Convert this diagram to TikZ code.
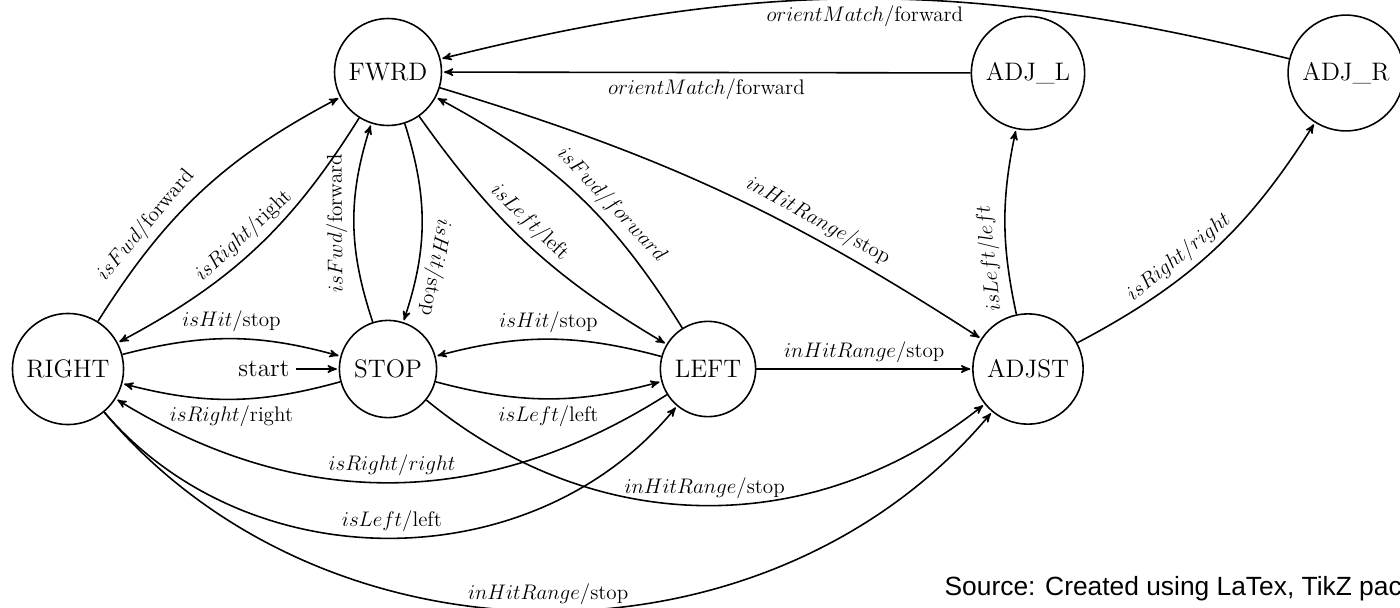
\documentclass[tikz,border=0pt]{standalone}
\usepackage{amsmath, amssymb}
\usepackage{fontspec}
\newfontfamily\srcfont{Liberation Sans}
\usetikzlibrary{positioning}
\usetikzlibrary{arrows}

\begin{document}
\begin{tikzpicture}[>=stealth',shorten >=1pt,node distance=6.4cm,
                line width=0.9pt,font=\large,
                main node/.style={circle,draw,font=\Large,inner sep=6pt}]

  \useasboundingbox (0,0) rectangle (28,-12.14);

  \node[main node] (right) at (1.36,-7.38) {RIGHT};
  \node[main node] (stop) [right of=right] {STOP};
  \node[main node] (left) [right of=stop] {LEFT};
  \node[main node] (adjst) [right of=left] {ADJST};
  \node[main node] (fwrd) [above of=stop, node distance=5.94cm] {FWRD};
  \node[main node] (adjl) [above of=adjst, node distance=5.92cm] {ADJ\_L};
  \node[main node] (adjr) [right of=adjl, node distance=6.36cm] {ADJ\_R};
  \node[font=\Large] (start) [left=0.85cm of stop] {start};

  \node[anchor=base west, font=\srcfont\fontsize{15}{18}\selectfont] (source)
    at (18.76,-11.9) {Source: Created using LaTex, TikZ pac};

  \path[->]
    (adjr) edge [bend right=14] node [below] {$orientMatch$/forward} (fwrd)
    (adjl) edge node [below] {$orientMatch$/forward} (fwrd)
    (fwrd) edge [bend left=8] node [sloped, above, pos=.68] {$inHitRange$/stop} (adjst)
    (adjst) edge [bend left=12] node [sloped, above, pos=.3, allow upside down] {$isLeft/left$} (adjl)
    (adjst) edge [bend right=15] node [sloped, above, pos=.4] {$isRight/right$} (adjr)
    (right) edge [bend left=15] node [sloped, above, pos=.3] {$isFwd$/forward} (fwrd)
    (fwrd) edge [bend left=15] node [sloped, above] {$isRight$/right} (right)
    (stop) edge [bend left=18] node [sloped, above, allow upside down] {$isFwd$/forward} (fwrd)
    (fwrd) edge [bend left=18] node [sloped, above, pos=.72, allow upside down] {$isHit$/stop} (stop)
    (fwrd) edge [bend right=12] node [sloped, above, pos=.45] {$isLeft$/left} (left)
    (left) edge [bend right=15] node [sloped, above, pos=.4] {$isFwd/forward$} (fwrd)
    (right) edge [bend left=15] node [above] {$isHit$/stop} (stop)
    (stop) edge [bend left=15] node [below] {$isRight$/right} (right)
    (left) edge [bend right=15] node [above] {$isHit$/stop} (stop)
    (stop) edge [bend right=15] node [below] {$isLeft$/left} (left)
    (left) edge node [above] {$inHitRange$/stop} (adjst)
    (left) edge [bend left=32] node [above] {$isRight/right$} (right)
    (right) edge [bend right=50] node [above] {$isLeft$/left} (left)
    (stop) edge [bend right=39] node [above] {$inHitRange$/stop} (adjst)
    (right) edge [bend right=50] node [above] {$inHitRange$/stop} (adjst)
    (start) edge (stop);

\end{tikzpicture}
\end{document}
